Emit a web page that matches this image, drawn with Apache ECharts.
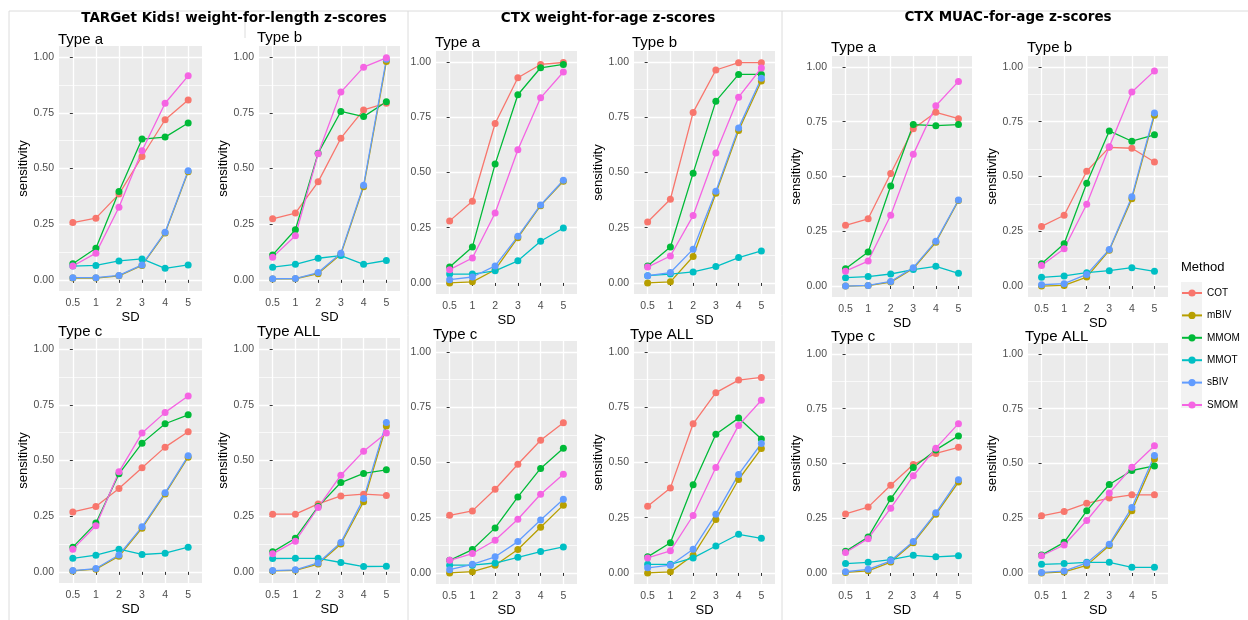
<!DOCTYPE html>
<html><head><meta charset="utf-8">
<script src="https://cdn.jsdelivr.net/npm/echarts@6/dist/echarts.min.js"></script>
<style>html,body{margin:0;padding:0;background:#fff}#c{width:1248px;height:620px}</style>
</head><body><div id="c"></div>
<script>
// ---- data ----
const methods = ['COT', 'mBIV', 'MMOM', 'MMOT', 'sBIV', 'SMOM'];
const colors = ['#F8766D', '#B79F00', '#00BA38', '#00BFC4', '#619CFF', '#F564E3'];
const xTickLabels = ['0.5', '1', '2', '3', '4', '5'];
const xTickValues = [0, 1, 2, 3, 4, 5];
const yTickValues = [0, 0.25, 0.5, 0.75, 1];
const yTickLabels = ['0.00', '0.25', '0.50', '0.75', '1.00'];
const yMinorValues = [0.125, 0.375, 0.625, 0.875];
const sectionTitles = ['TARGet Kids! weight-for-length z-scores', 'CTX weight-for-age z-scores', 'CTX MUAC-for-age z-scores'];

// rows: COT, mBIV, MMOM, MMOT, sBIV, SMOM
const tkA = [
  [0.257, 0.277, 0.385, 0.554, 0.719, 0.808],
  [0.008, 0.008, 0.018, 0.065, 0.210, 0.485],
  [0.072, 0.142, 0.397, 0.632, 0.641, 0.704],
  [0.062, 0.065, 0.085, 0.094, 0.052, 0.067],
  [0.010, 0.010, 0.020, 0.067, 0.214, 0.490],
  [0.062, 0.120, 0.326, 0.580, 0.793, 0.916]
];
const tkB = [
  [0.274, 0.300, 0.440, 0.636, 0.763, 0.793],
  [0.004, 0.005, 0.028, 0.115, 0.418, 0.980],
  [0.112, 0.225, 0.569, 0.756, 0.733, 0.800],
  [0.057, 0.070, 0.097, 0.109, 0.070, 0.087],
  [0.005, 0.006, 0.033, 0.120, 0.425, 0.990],
  [0.102, 0.198, 0.566, 0.843, 0.955, 0.997]
];
const tkC = [
  [0.269, 0.293, 0.374, 0.467, 0.560, 0.629],
  [0.004, 0.012, 0.070, 0.196, 0.350, 0.515],
  [0.111, 0.219, 0.440, 0.578, 0.665, 0.705],
  [0.061, 0.075, 0.102, 0.078, 0.084, 0.111],
  [0.006, 0.015, 0.076, 0.202, 0.355, 0.521],
  [0.102, 0.207, 0.449, 0.623, 0.716, 0.790]
];
const tkAll = [
  [0.259, 0.259, 0.305, 0.341, 0.349, 0.343],
  [0.004, 0.007, 0.035, 0.125, 0.315, 0.655],
  [0.090, 0.151, 0.293, 0.401, 0.442, 0.458],
  [0.060, 0.061, 0.061, 0.042, 0.024, 0.025],
  [0.006, 0.009, 0.040, 0.132, 0.329, 0.671],
  [0.081, 0.138, 0.289, 0.434, 0.542, 0.623]
];
const wfaA = [
  [0.281, 0.370, 0.722, 0.929, 0.989, 0.998],
  [0.000, 0.005, 0.060, 0.205, 0.350, 0.460],
  [0.072, 0.163, 0.538, 0.852, 0.974, 0.989],
  [0.040, 0.040, 0.055, 0.100, 0.189, 0.249],
  [0.015, 0.027, 0.077, 0.211, 0.353, 0.465],
  [0.060, 0.113, 0.317, 0.603, 0.838, 0.955]
];
const wfaB = [
  [0.276, 0.379, 0.772, 0.964, 0.997, 0.997],
  [0.000, 0.005, 0.120, 0.406, 0.690, 0.914],
  [0.077, 0.163, 0.497, 0.823, 0.944, 0.944],
  [0.033, 0.040, 0.050, 0.074, 0.115, 0.145],
  [0.033, 0.047, 0.153, 0.415, 0.702, 0.927],
  [0.072, 0.122, 0.305, 0.588, 0.841, 0.973]
];
const wfaC = [
  [0.261, 0.281, 0.379, 0.492, 0.601, 0.680],
  [0.000, 0.006, 0.035, 0.106, 0.207, 0.307],
  [0.057, 0.106, 0.204, 0.344, 0.473, 0.565],
  [0.035, 0.035, 0.045, 0.071, 0.097, 0.118],
  [0.015, 0.039, 0.073, 0.142, 0.240, 0.334],
  [0.057, 0.088, 0.148, 0.243, 0.356, 0.447]
];
const wfaAll = [
  [0.302, 0.385, 0.675, 0.816, 0.873, 0.885],
  [0.000, 0.005, 0.080, 0.242, 0.423, 0.563],
  [0.073, 0.137, 0.399, 0.628, 0.701, 0.606],
  [0.039, 0.039, 0.068, 0.122, 0.175, 0.157],
  [0.023, 0.035, 0.107, 0.266, 0.446, 0.586],
  [0.068, 0.100, 0.260, 0.477, 0.668, 0.782]
];
const muacA = [
  [0.277, 0.307, 0.514, 0.718, 0.793, 0.764],
  [0.000, 0.002, 0.018, 0.080, 0.200, 0.390],
  [0.079, 0.155, 0.457, 0.737, 0.732, 0.737],
  [0.038, 0.043, 0.055, 0.075, 0.090, 0.058],
  [0.000, 0.003, 0.021, 0.084, 0.205, 0.393],
  [0.068, 0.114, 0.323, 0.601, 0.823, 0.934]
];
const muacB = [
  [0.272, 0.323, 0.524, 0.633, 0.629, 0.566],
  [0.000, 0.003, 0.041, 0.163, 0.399, 0.779],
  [0.102, 0.193, 0.469, 0.708, 0.661, 0.690],
  [0.040, 0.046, 0.061, 0.070, 0.084, 0.067],
  [0.006, 0.011, 0.053, 0.167, 0.408, 0.790],
  [0.094, 0.170, 0.373, 0.636, 0.886, 0.982]
];
const muacC = [
  [0.270, 0.301, 0.401, 0.495, 0.546, 0.574],
  [0.003, 0.010, 0.050, 0.138, 0.268, 0.415],
  [0.099, 0.164, 0.339, 0.482, 0.562, 0.626],
  [0.043, 0.049, 0.061, 0.081, 0.074, 0.079],
  [0.006, 0.017, 0.056, 0.144, 0.275, 0.426],
  [0.094, 0.157, 0.296, 0.444, 0.570, 0.682]
];
const muacAll = [
  [0.261, 0.281, 0.318, 0.342, 0.357, 0.357],
  [0.000, 0.005, 0.035, 0.126, 0.284, 0.520],
  [0.082, 0.140, 0.284, 0.404, 0.468, 0.489],
  [0.040, 0.043, 0.049, 0.049, 0.026, 0.026],
  [0.003, 0.009, 0.046, 0.132, 0.299, 0.536],
  [0.079, 0.128, 0.240, 0.365, 0.483, 0.581]
];

// ---- layout ----
const FONT = '"Liberation Sans", Arial, Helvetica, sans-serif';
const TITLE_FONT = '"DejaVu Sans", Verdana, sans-serif';
const panels = [
  { d: tkA,    t: 'Type a',   l: 59,   tp: 46,  w: 143, h: 245, tx: 58,   ty: 32,  yn: true },
  { d: tkB,    t: 'Type b',   l: 259,  tp: 46,  w: 141, h: 245, tx: 257,  ty: 30,  yn: true },
  { d: wfaA,   t: 'Type a',   l: 436,  tp: 51,  w: 141, h: 243, tx: 435,  ty: 35,  yn: false },
  { d: wfaB,   t: 'Type b',   l: 634,  tp: 51,  w: 141, h: 243, tx: 632,  ty: 35,  yn: true },
  { d: muacA,  t: 'Type a',   l: 832,  tp: 56,  w: 140, h: 241, tx: 831,  ty: 40,  yn: true },
  { d: muacB,  t: 'Type b',   l: 1028, tp: 56,  w: 140, h: 241, tx: 1027, ty: 40,  yn: true },
  { d: tkC,    t: 'Type c',   l: 59,   tp: 338, w: 143, h: 245, tx: 58,   ty: 324, yn: true },
  { d: tkAll,  t: 'Type ALL', l: 259,  tp: 338, w: 141, h: 245, tx: 257,  ty: 324, yn: true },
  { d: wfaC,   t: 'Type c',   l: 436,  tp: 341, w: 141, h: 243, tx: 433,  ty: 327, yn: false },
  { d: wfaAll, t: 'Type ALL', l: 634,  tp: 341, w: 141, h: 243, tx: 630,  ty: 327, yn: true },
  { d: muacC,  t: 'Type c',   l: 832,  tp: 343, w: 140, h: 241, tx: 831,  ty: 329, yn: true },
  { d: muacAll,t: 'Type ALL', l: 1028, tp: 343, w: 140, h: 241, tx: 1025, ty: 329, yn: true }
];
const sectionPos = [[234, 18], [608, 18], [1008, 17]];

const grids = [], xAxes = [], yAxes = [], series = [], titles = [];
const frame = '#DCDCDC';
const graphics = [
  { type: 'rect', shape: { x: 1181, y: 282, width: 21, height: 126 }, style: { fill: '#F2F2F2' }, z: -1, silent: true },
  { type: 'line', shape: { x1: 9, y1: 11, x2: 1248, y2: 11 }, style: { stroke: frame, lineWidth: 1 }, silent: true },
  { type: 'line', shape: { x1: 9, y1: 11, x2: 9, y2: 620 }, style: { stroke: frame, lineWidth: 1 }, silent: true },
  { type: 'line', shape: { x1: 408, y1: 11, x2: 408, y2: 620 }, style: { stroke: frame, lineWidth: 1 }, silent: true },
  { type: 'line', shape: { x1: 782, y1: 11, x2: 782, y2: 620 }, style: { stroke: frame, lineWidth: 1 }, silent: true },
  { type: 'line', shape: { x1: 245, y1: 20, x2: 245, y2: 38 }, style: { stroke: frame, lineWidth: 1 }, silent: true }
];

sectionTitles.forEach((s, i) => {
  graphics.push({ type: 'text', x: sectionPos[i][0], y: sectionPos[i][1], silent: true,
    style: { text: s, align: 'center', verticalAlign: 'middle', fill: '#000',
      font: 'bold 13.5px ' + TITLE_FONT } });
});
titles.push({ text: 'Method', left: 1181, top: 261, padding: 0,
  textStyle: { fontSize: 13, fontWeight: 'normal', color: '#000', fontFamily: FONT } });

panels.forEach((p, g) => {
  titles.push({ text: p.t, left: p.tx, top: p.ty, padding: 0,
    textStyle: { fontSize: 15, fontWeight: 'normal', color: '#000', fontFamily: FONT } });
  grids.push({ left: p.l, top: p.tp, width: p.w, height: p.h, show: true,
    backgroundColor: '#EBEBEB', borderWidth: 0 });
  xAxes.push({
    type: 'value', gridIndex: g, min: -0.6, max: 5.6,
    name: 'SD', nameLocation: 'middle', nameGap: 20,
    nameTextStyle: { fontSize: 13, color: '#000', fontFamily: FONT },
    axisLine: { show: false },
    axisTick: { show: true, length: 3, lineStyle: { color: '#333', width: 1 }, customValues: xTickValues },
    axisLabel: { customValues: xTickValues, formatter: v => xTickLabels[xTickValues.indexOf(v)],
      color: '#4D4D4D', fontSize: 10.5, margin: 7, fontFamily: FONT },
    splitLine: { show: true, lineStyle: { color: '#FFFFFF', width: 1.3 } }
  });
  yAxes.push({
    type: 'value', gridIndex: g, min: -0.05, max: 1.05, position: 'left',
    name: p.yn ? 'sensitivity' : '', nameLocation: 'middle', nameGap: 29,
    nameTextStyle: { fontSize: 13, color: '#000', fontFamily: FONT },
    axisLine: { show: false },
    axisTick: { show: true, length: 3, lineStyle: { color: '#333', width: 1 }, customValues: yTickValues },
    axisLabel: { customValues: yTickValues, formatter: v => yTickLabels[yTickValues.indexOf(v)],
      color: '#4D4D4D', fontSize: 10.5, margin: 5, fontFamily: FONT },
    splitLine: { show: true, lineStyle: { color: '#FFFFFF', width: 1.3 } }
  });
  yAxes.push({
    type: 'value', gridIndex: g, min: -0.05, max: 1.05, position: 'right',
    axisLine: { show: false },
    axisTick: { show: false, customValues: yMinorValues },
    axisLabel: { show: false },
    splitLine: { show: true, lineStyle: { color: '#FFFFFF', width: 0.7 } }
  });
  methods.forEach((m, k) => {
    series.push({
      type: 'line', name: m, xAxisIndex: g, yAxisIndex: 2 * g,
      data: p.d[k].map((v, i) => [xTickValues[i], v]),
      symbol: 'circle', symbolSize: 7, showSymbol: true,
      lineStyle: { width: 1.3, color: colors[k] },
      itemStyle: { color: colors[k] },
      emphasis: { disabled: true }, silent: true, animation: false
    });
  });
});

const option = {
  backgroundColor: '#FFFFFF',
  animation: false,
  title: titles,
  grid: grids,
  xAxis: xAxes,
  yAxis: yAxes,
  series: series,
  legend: {
    data: methods, orient: 'vertical', left: 1181, top: 288,
    itemWidth: 20, itemHeight: 9, itemGap: 12.4, padding: 0,
    textStyle: { fontSize: 10, color: '#000', fontFamily: FONT },
    selectedMode: false
  },
  graphic: graphics
};

const chart = echarts.init(document.getElementById('c'));
chart.setOption(option);
</script></body></html>
